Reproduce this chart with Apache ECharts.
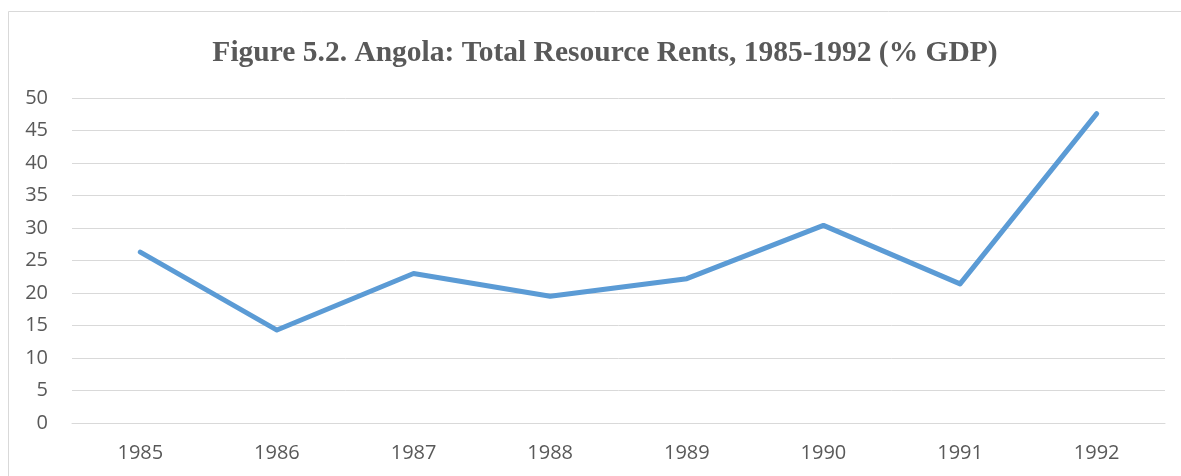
<!DOCTYPE html>
<html>
<head>
<meta charset="utf-8">
<script src="https://cdn.jsdelivr.net/npm/echarts@6/dist/echarts.min.js"></script>
<style>html,body{margin:0;padding:0;background:#fff;}#c{width:1181px;height:476px;}</style>
</head>
<body>
<div id="c"></div>
<script>
var years = ['1985','1986','1987','1988','1989','1990','1991','1992'];
var rents = [26.3, 14.3, 23.0, 19.5, 22.2, 30.4, 21.4, 47.6];
var yTicks = [0,5,10,15,20,25,30,35,40,45,50];

var chart = echarts.init(document.getElementById('c'));
chart.setOption({
  animation: false,
  backgroundColor: '#fff',
  graphic: [{
    type: 'rect', silent: true,
    shape: {x: 8.5, y: 11.5, width: 1250, height: 600},
    style: {fill: null, stroke: '#d9d9d9', lineWidth: 1}
  }],
  title: {
    text: 'Figure 5.2. Angola: Total Resource Rents, 1985-1992 (% GDP)',
    left: 600, top: 33, textAlign: 'center',
    textStyle: {fontFamily: '"Liberation Serif", "Times New Roman", serif', fontWeight: 'bold', fontSize: 29.5, color: '#595959'}
  },
  grid: {left: 72, right: 16, top: 98, bottom: 53},
  xAxis: {
    type: 'category', data: years, boundaryGap: true,
    axisLine: {show: true, lineStyle: {color: '#d9d9d9', width: 1}},
    axisTick: {show: false},
    axisLabel: {color: '#595959', fontSize: 20, fontFamily: '"Open Sans", "Liberation Sans", sans-serif', margin: 20}
  },
  yAxis: {
    type: 'value', min: yTicks[0], max: yTicks[yTicks.length-1], interval: 5,
    axisLine: {show: false}, axisTick: {show: false},
    splitLine: {lineStyle: {color: '#d9d9d9', width: 1}},
    axisLabel: {color: '#595959', fontSize: 20, fontFamily: '"Open Sans", "Liberation Sans", sans-serif', margin: 24}
  },
  series: [{
    type: 'line', data: rents, symbol: 'none',
    lineStyle: {color: '#5b9bd5', width: 5, cap: 'round', join: 'round'}
  }]
});
</script>
</body>
</html>
